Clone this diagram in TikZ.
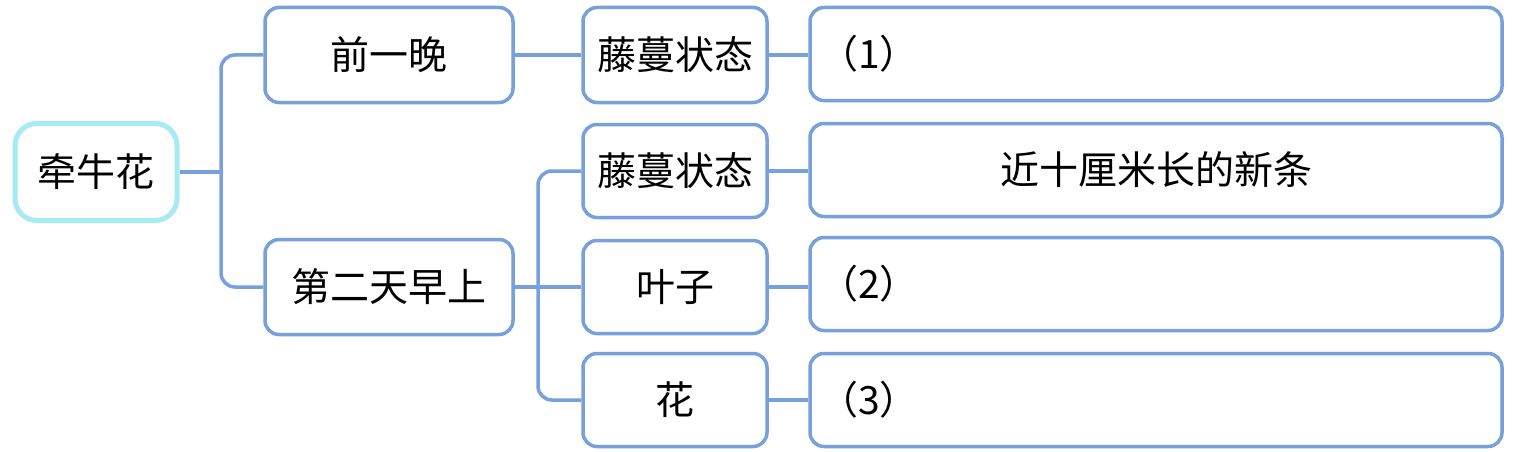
\documentclass[tikz,border=0pt]{standalone}
\usepackage{fontspec}
\setmainfont{Noto Sans CJK SC}
\begin{document}
\begin{tikzpicture}[x=1pt,y=-1pt,
  box/.style={draw=boxblue,line width=3.5pt,rounded corners=14pt,fill=white,
    font=\fontsize{39}{43}\selectfont,inner sep=0pt},
  rootbox/.style={box,draw=rootcyan,line width=5pt,rounded corners=22pt},
  ansbox/.style={box,minimum width=692pt,minimum height=93pt,text width=674pt},
  link/.style={draw=boxblue,line width=3.5pt,rounded corners=14pt}]
\definecolor{boxblue}{HTML}{77A0DD}
\definecolor{rootcyan}{HTML}{A6EBF3}
\useasboundingbox (0,0) rectangle (1521,452);
\fill[white] (0,0) rectangle (1521,452);
% root
\node[rootbox,minimum width=162pt,minimum height=97pt] (root) at (96,172) {牵牛花};
% level 1
\node[box,minimum width=248pt,minimum height=95pt] (n1) at (389,55) {前一晚};
\node[box,minimum width=248pt,minimum height=95pt] (n2) at (389,287) {第二天早上};
% level 2
\node[box,minimum width=184pt,minimum height=95pt] (a1) at (675,55) {藤蔓状态};
\node[box,minimum width=184pt,minimum height=93pt] (b1) at (675,171) {藤蔓状态};
\node[box,minimum width=184pt,minimum height=93pt] (b2) at (675,287) {叶子};
\node[box,minimum width=184pt,minimum height=93pt] (b3) at (675,400) {花};
% level 3
\node[ansbox,align=left] (c0) at (1156,54) {（1）};
\node[ansbox,align=center] (c1) at (1156,170) {近十厘米长的新条};
\node[ansbox,align=left] (c2) at (1156,284) {（2）};
\node[ansbox,align=left] (c3) at (1156,400) {（3）};
% connectors
\coordinate (j1) at (221,172);
\coordinate (j2) at (538,287);
\draw[link] (root.east) -- (j1);
\draw[link] (n1.west) -| (j1) |- (n2.west);
\draw[link] (n1.east) -- (a1.west);
\draw[link] (n2.east) -- (b2.west);
\draw[link] (b1.west) -| (j2) |- (b3.west);
\draw[link] (a1.east) -- (c0.west |- a1.east);
\draw[link] (b1.east) -- (c1.west |- b1.east);
\draw[link] (b2.east) -- (c2.west |- b2.east);
\draw[link] (b3.east) -- (c3.west |- b3.east);
\end{tikzpicture}
\end{document}
